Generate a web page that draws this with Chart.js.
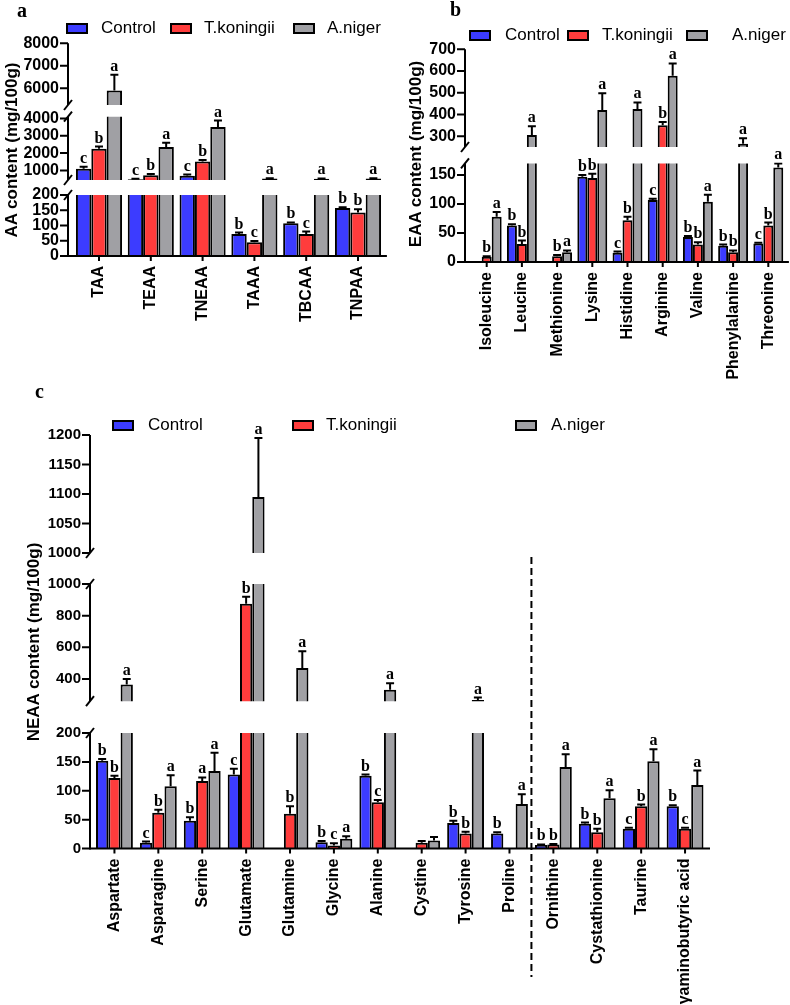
<!DOCTYPE html>
<html>
<head>
<meta charset="utf-8">
<script src="https://cdn.jsdelivr.net/npm/chart.js@4.4.0/dist/chart.umd.min.js"></script>
<style>
  body { margin: 0; background: #fff; }
  #page { position: relative; width: 790px; height: 1005px; overflow: hidden; background: #fff; font-family: 'Liberation Sans', Arial, sans-serif; color: #000; }
  #page canvas { position: absolute; }
  .tag { position: absolute; font: bold 20px/24px 'Liberation Serif', serif; }
  .ytitle { position: absolute; font-weight: bold; font-size: 17px; white-space: nowrap; transform: translate(-50%, -50%) rotate(-90deg); }
  .leg-box { position: absolute; width: 18px; height: 7px; border: 2px solid #000; }
  .leg-text { position: absolute; font-size: 17px; line-height: 20px; white-space: nowrap; }
</style>
</head>
<body>
<div id="page"></div>
<script>
// ---- data ----
const seriesNames = ['Control', 'T.koningii', 'A.niger'];

// panel a: total amino acid groups
const aLabels = ['TAA', 'TEAA', 'TNEAA', 'TAAA', 'TBCAA', 'TNPAA'];
const aControl = [1100, 500, 700, 72, 107, 157];
const aKoningii = [2250, 730, 1510, 45, 72, 143];
const aNiger = [5900, 2350, 3500, 530, 520, 530];
const aControlErr = [120, 20, 60, 5, 3, 3];
const aKoningiiErr = [130, 60, 100, 4, 8, 10];
const aNigerErr = [700, 250, 380, 20, 20, 20];
const aControlSig = ['c', 'c', 'c', 'b', 'b', 'b'];
const aKoningiiSig = ['b', 'b', 'b', 'c', 'c', 'b'];
const aNigerSig = ['a', 'a', 'a', 'a', 'a', 'a'];
const aTicksTop = [6000, 7000, 8000];
const aTicksMid = [1000, 2000, 3000, 4000];
const aTicksLow = [0, 50, 100, 150, 200];

// panel b: essential amino acids
const bLabels = ['Isoleucine', 'Leucine', 'Methionine', 'Lysine', 'Histidine', 'Arginine', 'Valine', 'Phenylalanine', 'Threonine'];
const bControl = [null, 63, null, 147, 16, 107, 43, 28, 32];
const bKoningii = [9, 31, 10, 145, 72, 350, 30, 17, 63];
const bNiger = [78, 305, 17, 420, 425, 578, 104, 265, 163];
const bControlErr = [0, 2, 0, 3, 2, 2, 2, 2, 1];
const bKoningiiErr = [1, 6, 2, 7, 6, 15, 4, 3, 5];
const bNigerErr = [8, 40, 3, 77, 30, 57, 12, 25, 7];
const bControlSig = ['', 'b', '', 'b', 'c', 'c', 'b', 'b', 'c'];
const bKoningiiSig = ['b', 'b', 'b', 'b', 'b', 'b', 'b', 'b', 'b'];
const bNigerSig = ['a', 'a', 'a', 'a', 'a', 'a', 'a', 'a', 'a'];
const bTicksTop = [300, 400, 500, 600, 700];
const bTicksLow = [0, 50, 100, 150];

// panel c: non-essential amino acids
const cLabels = ['Aspartate', 'Asparagine', 'Serine', 'Glutamate', 'Glutamine', 'Glycine', 'Alanine', 'Cystine', 'Tyrosine', 'Proline', 'Ornithine', 'Cystathionine', 'Taurine', 'γaminobutyric acid'];
const cControl = [152, 10, 48, 128, null, 11, 126, null, 44, 26, 6, 43, 34, 73];
const cKoningii = [122, 62, 117, 875, 60, 5, 80, 10, 26, null, 7, 28, 73, 34];
const cNiger = [365, 108, 134, 1095, 470, 17, 333, 14, 268, 77, 141, 87, 151, 110];
const cControlErr = [3, 2, 6, 10, 0, 2, 2, 0, 4, 2, 1, 2, 2, 2];
const cKoningiiErr = [4, 5, 6, 45, 13, 4, 4, 3, 3, 0, 1, 6, 3, 2];
const cNigerErr = [35, 19, 32, 100, 105, 4, 40, 6, 15, 17, 22, 14, 21, 25];
const cControlSig = ['b', 'c', 'b', 'c', '', 'b', 'b', '', 'b', 'b', 'b', 'b', 'c', 'b'];
const cKoningiiSig = ['b', 'b', 'a', 'b', 'b', 'c', 'c', '', 'b', '', 'b', 'b', 'b', 'c'];
const cNigerSig = ['a', 'a', 'a', 'a', 'a', 'a', 'a', '', 'a', 'a', 'a', 'a', 'a', 'a'];
const cTicksTop = [1000, 1050, 1100, 1150, 1200];
const cTicksMid = [400, 600, 800, 1000];
const cTicksLow = [0, 50, 100, 150, 200];

// ---- layout ----
const fills = ['#3c3cff', '#ff3c3c', '#a0a0a4'];

const panels = [
  {
    tag: 'a', tagX: 17, tagY: -2,
    title: 'AA content (mg/100g)', titleX: 12, titleY: 150,
    legendY: 22.5, legendX: [[66, 101], [170, 204], [293, 327]],
    x0: 0, x1: 390, axisX: 68, areaLeft: 73.1, areaRight: 383.9, catPct: 0.89,
    xFont: 16, yFont: 16,
    labels: aLabels,
    values: [aControl, aKoningii, aNiger],
    errs: [aControlErr, aKoningiiErr, aNigerErr],
    sigs: [aControlSig, aKoningiiSig, aNigerSig],
    segments: [
      { min: 5250, max: 8000, top: 43.3, bottom: 105, ticks: aTicksTop },
      { min: 450, max: 4100, top: 116.7, bottom: 180, ticks: aTicksMid },
      { min: 0, max: 200, top: 195, bottom: 256, ticks: aTicksLow }
    ]
  },
  {
    tag: 'b', tagX: 450, tagY: -3,
    title: 'EAA content (mg/100g)', titleX: 416, titleY: 154,
    legendY: 29.5, legendX: [[469, 505], [567, 602], [686, 732]],
    x0: 390, x1: 790, axisX: 465, areaLeft: 469.1, areaRight: 785.9, catPct: 0.85,
    xFont: 16, yFont: 16,
    labels: bLabels,
    values: [bControl, bKoningii, bNiger],
    errs: [bControlErr, bKoningiiErr, bNigerErr],
    sigs: [bControlSig, bKoningiiSig, bNigerSig],
    segments: [
      { min: 250, max: 700, top: 49.3, bottom: 147, ticks: bTicksTop },
      { min: 0, max: 170, top: 163.4, bottom: 262, ticks: bTicksLow }
    ]
  },
  {
    tag: 'c', tagX: 35, tagY: 379,
    title: 'NEAA content (mg/100g)', titleX: 34, titleY: 642,
    legendY: 419.5, legendX: [[112, 148], [292, 326], [515, 551]],
    x0: 0, x1: 790, axisX: 90, areaLeft: 92.5, areaRight: 707, catPct: 0.84,
    xFont: 16, yFont: 15,
    labels: cLabels,
    values: [cControl, cKoningii, cNiger],
    errs: [cControlErr, cKoningiiErr, cNigerErr],
    sigs: [cControlSig, cKoningiiSig, cNigerSig],
    dividerAfter: 9, dividerTop: 557, dividerBottom: 977,
    segments: [
      { min: 1000, max: 1200, top: 435, bottom: 553, ticks: cTicksTop },
      { min: 260, max: 1000, top: 584, bottom: 701.2, ticks: cTicksMid },
      { min: 0, max: 200, top: 733, bottom: 848.5, ticks: cTicksLow, canvasTop: 545 }
    ]
  }
];

const page = document.getElementById('page');

function addDiv(cls, text, left, top) {
  const d = document.createElement('div');
  d.className = cls;
  if (text) d.textContent = text;
  d.style.left = left + 'px';
  d.style.top = top + 'px';
  page.appendChild(d);
  return d;
}

// draws error bars, letters, axis lines, ticks and break marks
function overlay(p, seg, idx) {
  const last = p.segments.length - 1;
  const isBottom = idx === last;
  return {
    id: 'overlay',
    afterDatasetsDraw(chart) {
      const ctx = chart.ctx, area = chart.chartArea;
      const ys = chart.scales.y, xs = chart.scales.x;
      const ax = p.axisX - p.x0;
      ctx.save();
      ctx.strokeStyle = '#000';
      ctx.fillStyle = '#000';

      // error bars (one-sided, clipped to the segment)
      ctx.save();
      ctx.beginPath();
      ctx.rect(area.left, area.top - 1, area.right - area.left, area.bottom - area.top + 1);
      ctx.clip();
      ctx.lineWidth = 2;
      p.values.forEach((vals, di) => {
        const meta = chart.getDatasetMeta(di);
        vals.forEach((v, j) => {
          const e = p.errs[di][j];
          if (v == null || !e) return;
          const el = meta.data[j];
          const y0 = ys.getPixelForValue(v), y1 = ys.getPixelForValue(v + e);
          ctx.beginPath();
          ctx.moveTo(el.x, y0); ctx.lineTo(el.x, y1);
          ctx.moveTo(el.x - 4, y1); ctx.lineTo(el.x + 4, y1);
          ctx.stroke();
        });
      });
      ctx.restore();

      // significance letters
      ctx.font = 'bold 16px "Liberation Serif", serif';
      ctx.textAlign = 'center';
      ctx.textBaseline = 'alphabetic';
      p.values.forEach((vals, di) => {
        const meta = chart.getDatasetMeta(di);
        vals.forEach((v, j) => {
          const s = p.sigs[di][j];
          if (v == null || !s || v < seg.min || v > seg.max) return;
          const el = meta.data[j];
          const yTop = ys.getPixelForValue(v + (p.errs[di][j] || 0));
          ctx.fillText(s, el.x, yTop - 4);
        });
      });

      // y axis with ticks
      ctx.lineWidth = 2;
      ctx.beginPath();
      ctx.moveTo(ax, area.top);
      ctx.lineTo(ax, area.bottom + (isBottom ? 1 : 0));
      seg.ticks.forEach(t => {
        const py = ys.getPixelForValue(t);
        ctx.moveTo(ax - 8, py); ctx.lineTo(ax, py);
      });
      ctx.stroke();

      // break marks
      const brk = y => {
        ctx.beginPath();
        ctx.moveTo(ax - 4, y + 5); ctx.lineTo(ax + 4, y - 5);
        ctx.stroke();
      };
      if (idx > 0) brk(area.top);
      if (idx < last) brk(area.bottom);

      if (isBottom) {
        ctx.beginPath();
        ctx.moveTo(ax - 1, area.bottom);
        ctx.lineTo(area.right + 3, area.bottom);
        p.labels.forEach((l, i) => {
          const px = xs.getPixelForValue(i);
          ctx.moveTo(px, area.bottom); ctx.lineTo(px, area.bottom + 5);
        });
        ctx.stroke();

        if (p.dividerAfter != null) {
          const dx = (xs.getPixelForValue(p.dividerAfter) + xs.getPixelForValue(p.dividerAfter + 1)) / 2;
          const top = chart.canvas.offsetTop;
          ctx.setLineDash([7, 4]);
          ctx.beginPath();
          ctx.moveTo(dx, p.dividerTop - top);
          ctx.lineTo(dx, p.dividerBottom - top);
          ctx.stroke();
          ctx.setLineDash([]);
        }
      }
      ctx.restore();
    }
  };
}

function buildSegment(p, seg, idx) {
  const isBottom = idx === p.segments.length - 1;
  const top = Math.round(seg.canvasTop != null ? seg.canvasTop : seg.top - 35);
  const bottom = isBottom ? 1005 : Math.round(seg.bottom + 12);
  const w = p.x1 - p.x0, h = bottom - top;

  const canvas = document.createElement('canvas');
  canvas.width = w; canvas.height = h;
  canvas.style.left = p.x0 + 'px';
  canvas.style.top = top + 'px';
  canvas.style.width = w + 'px';
  canvas.style.height = h + 'px';
  page.appendChild(canvas);

  new Chart(canvas, {
    type: 'bar',
    data: {
      labels: p.labels,
      datasets: p.values.map((vals, di) => ({
        label: seriesNames[di],
        data: vals,
        backgroundColor: fills[di],
        borderColor: '#000',
        borderWidth: 2,
        clip: 0,
        categoryPercentage: p.catPct,
        barPercentage: 1
      }))
    },
    options: {
      responsive: false,
      animation: false,
      devicePixelRatio: 1,
      events: [],
      layout: {
        padding: {
          left: 0,
          right: p.x1 - p.areaRight,
          top: seg.top - top,
          bottom: isBottom ? 0 : bottom - seg.bottom
        }
      },
      plugins: { legend: { display: false }, tooltip: { enabled: false } },
      scales: {
        x: {
          display: isBottom,
          grid: { display: false, drawTicks: false },
          border: { display: false },
          ticks: {
            autoSkip: false, minRotation: 90, maxRotation: 90, padding: 10,
            color: '#000', font: { size: p.xFont, weight: 'bold' }
          },
          afterFit: s => {
            if (isBottom) s.height = bottom - seg.bottom;
            s.paddingLeft = 0; s.paddingRight = 0;
          }
        },
        y: {
          min: seg.min, max: seg.max,
          grid: { display: false, drawTicks: false },
          border: { display: false },
          ticks: {
            autoSkip: false,
            padding: p.areaLeft - p.axisX + 9,
            color: '#000', font: { size: p.yFont, weight: 'bold' },
            callback: v => String(v)
          },
          afterBuildTicks: s => { s.ticks = seg.ticks.map(v => ({ value: v })); },
          afterFit: s => {
            s.width = p.areaLeft - p.x0;
            s.paddingTop = 0; s.paddingBottom = 0;
          }
        }
      }
    },
    plugins: [overlay(p, seg, idx)]
  });
}

panels.forEach(p => {
  p.segments.forEach((seg, idx) => buildSegment(p, seg, idx));

  addDiv('tag', p.tag, p.tagX, p.tagY);
  addDiv('ytitle', p.title, p.titleX, p.titleY);
  p.legendX.forEach((lx, k) => {
    const box = addDiv('leg-box', '', lx[0], p.legendY);
    box.style.background = fills[k];
    addDiv('leg-text', seriesNames[k], lx[1], p.legendY - 5);
  });
});
</script>
</body>
</html>
